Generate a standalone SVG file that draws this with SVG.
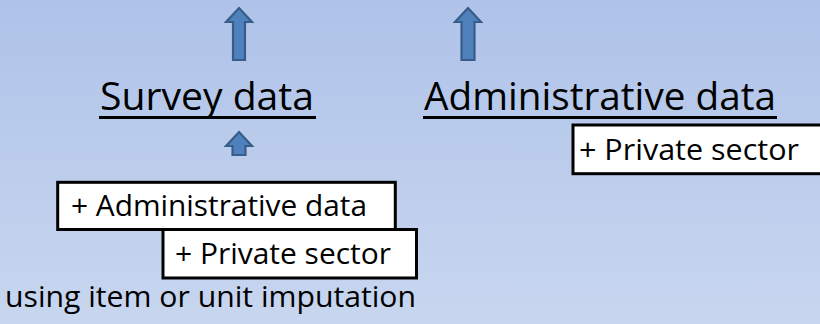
<svg xmlns="http://www.w3.org/2000/svg" width="820" height="324" viewBox="0 0 820 324">
  <defs>
    <linearGradient id="bg" x1="0" y1="0" x2="0" y2="1">
      <stop offset="0" stop-color="#afc3e9"/>
      <stop offset="1" stop-color="#c8d6ef"/>
    </linearGradient>
  </defs>
  <style>
    .arrow { fill: #4f81bd; stroke: #385d8a; stroke-width: 2.2; stroke-linejoin: miter; }
    .box { fill: #ffffff; stroke: #000000; stroke-width: 3; }
    .title { font-family: "Open Sans", "Noto Sans", sans-serif; font-size: 39px; fill: #000000; }
    .label { font-family: "Open Sans", "Noto Sans", sans-serif; font-size: 29px; fill: #000000; }
    .uline { stroke: #000000; stroke-width: 3; }
  </style>

  <rect x="0" y="0" width="820" height="324" fill="url(#bg)"/>

  <!-- upward block arrows -->
  <g id="connectors">
    <polygon class="arrow" points="239,8 252,22 245,22 245,60 233,60 233,22 226,22"/>
    <polygon class="arrow" points="468,8 481,22 474.5,22 474.5,60 461.5,60 461.5,22 455,22"/>
    <polygon class="arrow" points="239,132 252,146 245.5,146 245.5,155 232.5,155 232.5,146 226,146"/>
  </g>

  <g id="survey-data">
    <text class="title" x="100" y="110" textLength="214" lengthAdjust="spacingAndGlyphs">Survey data</text>
    <line class="uline" x1="99" y1="117.5" x2="316" y2="117.5"/>
  </g>

  <g id="administrative-data">
    <text class="title" x="424" y="110" textLength="352" lengthAdjust="spacingAndGlyphs">Administrative data</text>
    <line class="uline" x1="423" y1="117.5" x2="777" y2="117.5"/>
  </g>

  <g id="private-sector-right">
    <rect class="box" x="573" y="125" width="260" height="48.7"/>
    <text class="label" x="579" y="160" textLength="220" lengthAdjust="spacingAndGlyphs">+ Private sector</text>
  </g>

  <g id="plus-administrative">
    <rect class="box" x="57.7" y="182.3" width="337.6" height="47.2"/>
    <text class="label" x="71" y="216" textLength="296" lengthAdjust="spacingAndGlyphs">+ Administrative data</text>
  </g>

  <g id="plus-private-left">
    <rect class="box" x="163" y="229.5" width="253.5" height="48.5"/>
    <text class="label" x="175" y="264" textLength="216" lengthAdjust="spacingAndGlyphs">+ Private sector</text>
  </g>

  <g id="imputation-note">
    <text class="label" x="5" y="307" textLength="411" lengthAdjust="spacingAndGlyphs">using item or unit imputation</text>
  </g>
</svg>
